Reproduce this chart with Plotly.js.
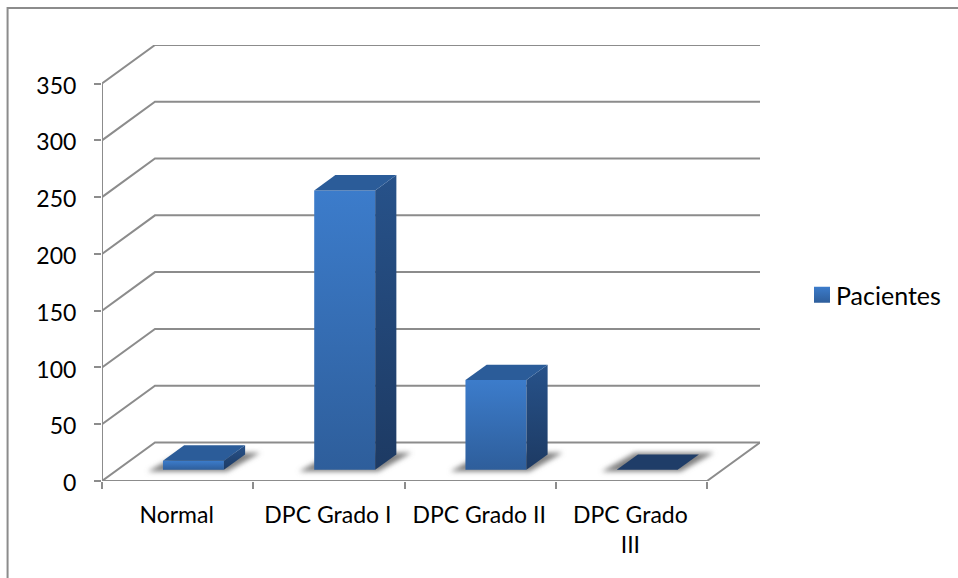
<!DOCTYPE html>
<html>
<head>
<meta charset="utf-8">
<script src="https://cdn.plot.ly/plotly-3.0.1.min.js"></script>
<style>html,body{margin:0;padding:0;background:#fff}#chart{width:958px;height:578px}</style>
</head>
<body>
<div id="chart"></div>
<script>
// Patient counts per grade
var categories = ['Normal', 'DPC Grado I', 'DPC Grado II', 'DPC Grado<br>III'];
var pacientes = [8, 246, 79, 0];
var yTicks = [0, 50, 100, 150, 200, 250, 300, 350];
var seriesName = 'Pacientes';

// Oblique projection of the chart box, in axis units
var wallDx = 53 / 151.3, wallDy = 38.5 / 1.134;  // full depth of the floor
var barDepth = 0.4;                              // share of the depth taken by a column
var barLift = 0.29;                              // how far behind the front edge columns stand
var barW = 0.403, barGap = 0.403;                // front width, left gap inside the slot

var FONT = 'Lato, "Open Sans", sans-serif';
var gridColor = '#8c8c8c';

function proj(cat, val, depth) { return [cat + depth * wallDx, val + depth * wallDy]; }

function poly(points, color, name, axes) {
  var xs = [], ys = [];
  points.forEach(function (p) { xs.push(p[0]); ys.push(p[1]); });
  return { type: 'scatter', mode: 'lines', x: xs, y: ys, fill: 'toself', fillcolor: color,
           line: { width: 0 }, hoverinfo: 'skip', showlegend: false, name: name,
           xaxis: axes ? 'x2' : 'x', yaxis: axes ? 'y2' : 'y', cliponaxis: false };
}

function lineTrace(points, width) {
  return { type: 'scatter', mode: 'lines', x: points.map(function (p) { return p[0]; }),
           y: points.map(function (p) { return p[1]; }),
           line: { color: gridColor, width: width || 2 }, hoverinfo: 'skip', showlegend: false,
           cliponaxis: false };
}

var traces = [];
var nCat = categories.length;

// Floor and wall rules
yTicks.forEach(function (v) {
  traces.push(lineTrace([proj(0, v, 0), proj(0, v, 1), proj(nCat, v, 1)]));
});
traces.push(lineTrace([proj(0, 0, 0), proj(0, yTicks[yTicks.length - 1], 0)]));
traces.push(lineTrace([proj(0, 0, 0), proj(nCat, 0, 0), proj(nCat, 0, 1)]));

var lift = barLift * wallDy;
var dx = barDepth * wallDx, dy = barDepth * wallDy;

// Soft floor shadows under the columns
pacientes.forEach(function (v, i) {
  var l = i + barGap, r = l + barW;
  traces.push(poly([[l - 0.1, lift - 1.5], [r + 0.02, lift - 1.5], [r + dx + 0.1, lift + dy + 1.5], [l + dx - 0.02, lift + dy + 1.5]],
                   '#808080', 'shadow'));
});

// Column fronts
var xCenters = pacientes.map(function (v, i) { return i + barGap + barW / 2; });
traces.push({ type: 'bar', x: xCenters, y: pacientes, base: lift, width: barW, name: seriesName,
              marker: { color: '#3a78c6', line: { width: 0 } }, xaxis: 'x2', yaxis: 'y2',
              hoverinfo: 'skip' });

// Column side and top faces
pacientes.forEach(function (v, i) {
  var l = i + barGap, r = l + barW;
  var top = lift + v;
  traces.push(poly([[r, lift], [r + dx, lift + dy], [r + dx, top + dy], [r, top]], '#234a7c', 'side', true));
  traces.push(poly([[l, top], [r, top], [r + dx, top + dy], [l + dx, top + dy]],
                   v === 0 ? '#1f3d68' : '#2b5c99', 'top', true));
});

var L = 101.5, R = 198, T = 45, B = 97, W = 958, H = 578;
var pw = W - L - R, ph = H - T - B;
var xRange = [0, nCat + wallDx];
var yRange = [0, yTicks[yTicks.length - 1] + wallDy];

var layout = {
  width: W, height: H, paper_bgcolor: '#fff', plot_bgcolor: 'rgba(0,0,0,0)',
  margin: { l: L, r: R, t: T, b: B, pad: 0, autoexpand: false },
  font: { family: FONT, size: 23, color: '#000' },
  barmode: 'overlay',
  xaxis: { range: xRange, tickmode: 'array', tickvals: [0, 1, 2, 3, 4], ticktext: ['', '', '', '', ''],
           ticks: 'outside', ticklen: 7, tickwidth: 2, tickcolor: gridColor,
           showgrid: false, zeroline: false, showline: false, fixedrange: true },
  yaxis: { range: yRange, tickmode: 'array', tickvals: yTicks, ticks: 'outside', ticklen: 7,
           tickwidth: 2, tickcolor: gridColor, ticklabelstandoff: 13, ticklabelshift: 2, showgrid: false,
           zeroline: false, showline: false, fixedrange: true },
  xaxis2: { range: xRange, overlaying: 'x', anchor: 'y2', side: 'bottom', tickmode: 'array',
            tickvals: [0.5, 1.5, 2.5, 3.5], ticktext: categories, ticks: '', ticklabelstandoff: 18,
            ticklabelshift: -1, tickangle: 0, showgrid: false, zeroline: false, showline: false, fixedrange: true },
  yaxis2: { range: yRange, overlaying: 'y', anchor: 'x2', visible: false, fixedrange: true },
  showlegend: true,
  legend: { x: (796 - L) / pw, xanchor: 'left', y: (H - B - 295) / ph, yanchor: 'middle',
            bgcolor: 'rgba(0,0,0,0)', font: { family: FONT, size: 25, color: '#000' } },
  shapes: [{ type: 'rect', xref: 'paper', yref: 'paper', x0: (7 - L) / pw, x1: (1000 - L) / pw,
             y0: (H - B - 620) / ph, y1: (H - B - 8) / ph,
             line: { color: '#8c8c8c', width: 2 }, fillcolor: 'rgba(0,0,0,0)', layer: 'below' }]
};

Plotly.newPlot('chart', traces, layout, { displayModeBar: false, staticPlot: true }).then(function (gd) {
  // Gradient paints and the blur for the floor shadows
  var svg = gd.querySelector('svg.main-svg');
  var NS = 'http://www.w3.org/2000/svg';
  var defs = document.createElementNS(NS, 'defs');
  function grad(id, c1, c2) {
    var g = document.createElementNS(NS, 'linearGradient');
    g.setAttribute('id', id); g.setAttribute('x1', 0); g.setAttribute('y1', 0);
    g.setAttribute('x2', 0); g.setAttribute('y2', 1);
    [[0, c1], [1, c2]].forEach(function (s) {
      var st = document.createElementNS(NS, 'stop');
      st.setAttribute('offset', s[0]); st.setAttribute('stop-color', s[1]);
      g.appendChild(st);
    });
    defs.appendChild(g);
  }
  grad('frontPaint', '#3c7ccb', '#2e5e9b');
  grad('sidePaint', '#27528a', '#1d3a63');
  var f = document.createElementNS(NS, 'filter');
  f.setAttribute('id', 'floorBlur');
  f.setAttribute('x', '-20%'); f.setAttribute('y', '-60%');
  f.setAttribute('width', '140%'); f.setAttribute('height', '220%');
  var b = document.createElementNS(NS, 'feGaussianBlur');
  b.setAttribute('stdDeviation', '2.5');
  f.appendChild(b); defs.appendChild(f);
  svg.insertBefore(defs, svg.firstChild);

  function paint(el, id) { el.style.fill = 'url(#' + id + ')'; }
  gd.querySelectorAll('.barlayer .point path').forEach(function (p) { paint(p, 'frontPaint'); });

  gd.querySelectorAll('.scatterlayer .js-fill').forEach(function (p) {
    var c = p.style.fill.replace(/\s/g, '');
    if (c === 'rgb(128,128,128)') { p.setAttribute('filter', 'url(#floorBlur)'); }
    if (c === 'rgb(35,74,124)') { paint(p, 'sidePaint'); }
  });

  gd.querySelectorAll('.legend .legendpoints path').forEach(function (p) {
    paint(p, 'frontPaint');
    p.setAttribute('d', 'M14,8H-2V-8H14Z');
  });
});
</script>
</body>
</html>
